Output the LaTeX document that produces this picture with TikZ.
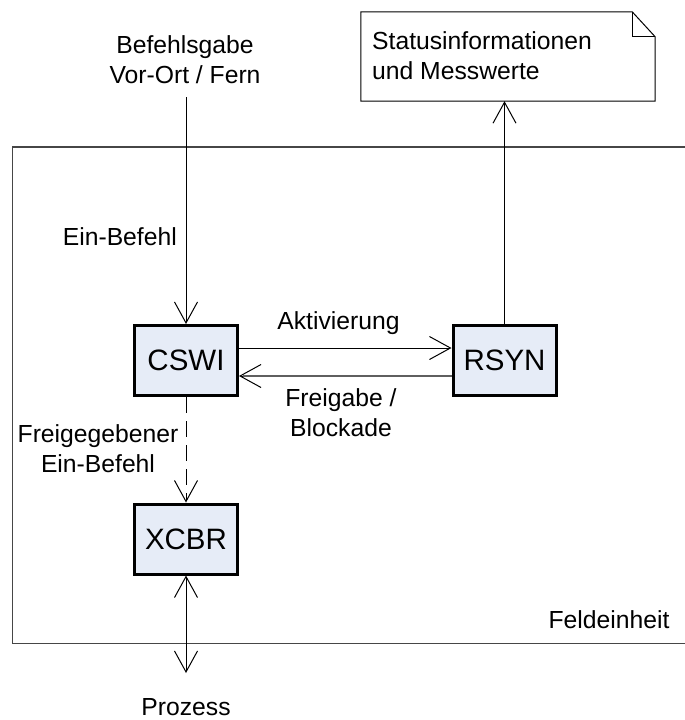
\documentclass[tikz,border=0pt]{standalone}
\usepackage{fontspec}
\setmainfont{Liberation Sans}
\usetikzlibrary{arrows.meta}
\definecolor{boxfill}{RGB}{230,236,247}
\definecolor{framegray}{RGB}{70,70,70}
\definecolor{retgray}{RGB}{95,95,95}
\tikzset{
  lnbox/.style={draw=black, line width=3pt, fill=boxfill, minimum width=103pt, minimum height=70pt, inner sep=0pt, font=\fontsize{29.5}{34}\selectfont},
  lbl/.style={inner sep=0pt, font=\fontsize{24.7}{30}\selectfont},
  arr/.style={line width=1pt, -{Straight Barb[length=21pt,width=23pt,line width=1pt]}},
  dblarr/.style={line width=1pt, {Straight Barb[length=21pt,width=23pt,line width=1pt]}-{Straight Barb[length=21pt,width=23pt,line width=1pt]}},
}
\begin{document}
\begin{tikzpicture}[x=1pt,y=-1pt]
\useasboundingbox (0,0) rectangle (685,720);
\fill[white] (0,0) rectangle (685,720);
\begin{scope}
\clip (0,0) rectangle (685,720);
% Feldeinheit frame (continues beyond right edge)
\draw[framegray, line width=1.3pt] (700,147) -- (12.5,147) -- (12.5,643.5) -- (700,643.5);
\end{scope}

% note with folded corner
\node[minimum width=294pt, minimum height=89pt, inner sep=0pt] (note) at (508,56.5) {};
\draw[line width=1pt] (note.north west) -- ([xshift=-23pt]note.north east) -- ([yshift=-25pt]note.north east) -- (note.south east) -- (note.south west) -- cycle;
\draw[line width=1pt] ([xshift=-23pt]note.north east) -- ([xshift=-23pt,yshift=-25pt]note.north east) -- ([yshift=-25pt]note.north east);
\node[lbl, anchor=base west, align=left] (notetxt) at (372,79) {Statusinformationen\\und Messwerte};

% boxes
\node[lnbox] (cswi) at (186,360.5) {CSWI};
\node[lnbox] (rsyn) at (504.5,360) {RSYN};
\node[lnbox] (xcbr) at (186,539) {XCBR};

% labels
\node[lbl, anchor=base, align=center] (cmd) at (185,83) {Befehlsgabe\\Vor-Ort / Fern};
\node[lbl, anchor=base east] (ein) at (177,245) {Ein-Befehl};
\node[lbl, anchor=base] (akt) at (338.5,329) {Aktivierung};
\node[lbl, anchor=base, align=center] (frei) at (341,436) {Freigabe /\\Blockade};
\node[lbl, anchor=base, align=center] (freiein) at (98,472) {Freigegebener\\Ein-Befehl};
\node[lbl, anchor=base] (feld) at (609,628) {Feldeinheit};
\node[lbl, anchor=base] (proz) at (186,715.5) {Prozess};

% connectors
\coordinate (cmdtop) at (186,97);
\coordinate (aktY) at (0,348);
\coordinate (freiY) at (0,376);
\coordinate (prozend) at (186,673);
\draw[arr] (cmdtop) -- (cswi.north);
\draw[arr] (cswi.east |- aktY) -- (rsyn.west |- aktY);
\draw[line width=1pt, -{Straight Barb[length=21pt,width=23pt,line width=1pt]}] (rsyn.west |- freiY) -- (cswi.east |- freiY);
\draw[retgray, line width=1.8pt] (rsyn.west |- freiY) -- ([xshift=4pt]cswi.east |- freiY);
\draw[arr] (rsyn.north) -- (rsyn.north |- note.south);
\draw[arr, dash pattern=on 16pt off 8pt] (cswi.south) -- (xcbr.north);
\draw[dblarr] (xcbr.south) -- (prozend);
\end{tikzpicture}
\end{document}
